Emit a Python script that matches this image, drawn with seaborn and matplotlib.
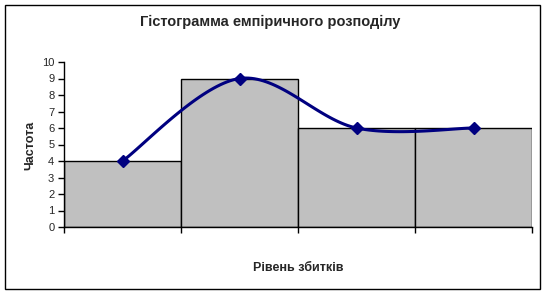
import numpy as np
import pandas as pd
import matplotlib
matplotlib.use("Agg")
import matplotlib.pyplot as plt
import seaborn as sns
from matplotlib.patches import Rectangle

bins = ["1", "2", "3", "4"]
freq = [4, 9, 6, 6]
yticks = list(range(0, 11))
title = "Гістограмма емпіричного розподілу"
xlabel = "Рівень збитків"
ylabel = "Частота"

sns.set_theme(style="white")
plt.rcParams['font.family'] = ['Liberation Sans', 'DejaVu Sans']

fig = plt.figure(figsize=(5.48, 2.94), dpi=100)
ax = fig.add_axes([64/548, 1-227/294, (532-64)/548, (227-62)/294])

df = pd.DataFrame({"bin": bins, "freq": freq})
sns.barplot(data=df, x="bin", y="freq", color="#C0C0C0", saturation=1,
            width=1.0, edgecolor="black", linewidth=1, ax=ax)

# Excel-like smoothed line (Catmull-Rom Bezier) through data points
xs = np.arange(len(freq), dtype=float)
ys = np.array(freq, dtype=float)
px = np.concatenate([[xs[0]], xs, [xs[-1]]])
py = np.concatenate([[ys[0]], ys, [ys[-1]]])
cx, cy = [], []
t = np.linspace(0, 1, 40)
for i in range(1, len(px) - 2):
    p0 = np.array([px[i], py[i]])
    p3 = np.array([px[i+1], py[i+1]])
    c1 = p0 + (np.array([px[i+1], py[i+1]]) - np.array([px[i-1], py[i-1]])) / 6
    c2 = p3 - (np.array([px[i+2], py[i+2]]) - np.array([px[i], py[i]])) / 6
    b = ((1-t)**3)[:, None]*p0 + (3*(1-t)**2*t)[:, None]*c1 + (3*(1-t)*t**2)[:, None]*c2 + (t**3)[:, None]*p3
    cx.extend(b[:, 0]); cy.extend(b[:, 1])
ax.plot(cx, cy, color="#000080", linewidth=2.2, zorder=3)
ax.plot(xs, ys, linestyle="none", marker="D", markersize=6.5, color="#000080", zorder=4)

ax.set_xlim(-0.5, len(freq) - 0.5)
ax.set_ylim(0, 10)
ax.set_xticks(np.arange(-0.5, len(freq), 1.0))
ax.set_xticklabels([])
ax.set_yticks(yticks)
ax.set_yticklabels([str(v) for v in yticks], fontsize=8)
ax.tick_params(axis="both", direction="out", length=4, width=1, color="black",
               bottom=True, left=True, pad=3)
for s in ["top", "right"]:
    ax.spines[s].set_visible(False)
for s in ["left", "bottom"]:
    ax.spines[s].set_color("black")
    ax.spines[s].set_linewidth(1)
ax.set_xlabel("")
ax.set_ylabel("")
ax.set_facecolor("white")

fig.text(270/548, 1-22/294, title, ha="center", va="center", fontsize=10.5, fontweight="bold")
fig.text(298/548, 1-268/294, xlabel, ha="center", va="center", fontsize=9, fontweight="bold")
fig.text(30/548, 1-145/294, ylabel, ha="center", va="center", fontsize=9, fontweight="bold", rotation=90)

fig.patches.append(Rectangle((5/548, 1-289/294), 535/548, 284/294, transform=fig.transFigure,
                             fill=False, edgecolor="black", linewidth=1))

fig.savefig("out.png", dpi=100)
